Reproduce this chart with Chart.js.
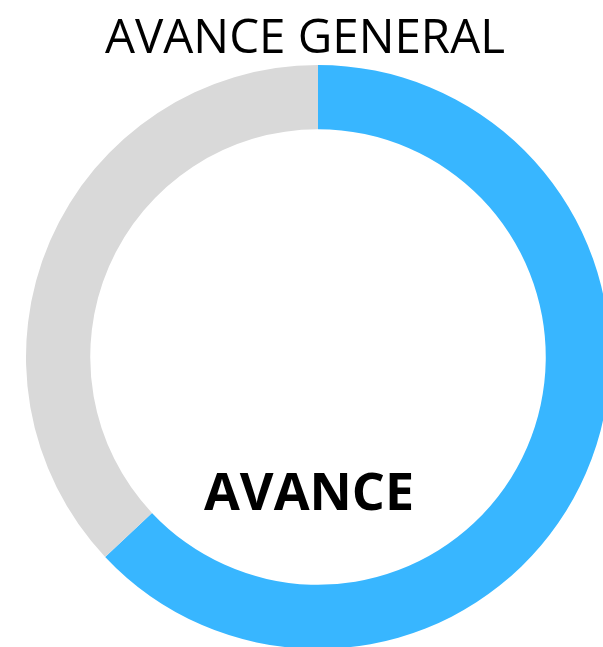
<!DOCTYPE html>
<html>
<head>
<meta charset="utf-8">
<script src="https://cdn.jsdelivr.net/npm/chart.js@4"></script>
<style>
  html, body { margin: 0; padding: 0; overflow: hidden; background: #fff; }
  canvas { display: block; }
</style>
</head>
<body>
<canvas id="grafico-avance" width="636" height="660"></canvas>
<script>
// Datos del gráfico
const etiquetas = ['Avance', 'Restante'];
const valores = [63, 37];
const colores = ['#38b6ff', '#d9d9d9'];
const titulo = 'AVANCE GENERAL';
const textoCentro = 'AVANCE';

// Plugin para escribir el título y el texto dentro del anillo
const textos = {
  id: 'textos',
  afterDraw(chart) {
    const ctx = chart.ctx;
    ctx.save();
    ctx.fillStyle = '#000';
    ctx.textAlign = 'center';
    ctx.textBaseline = 'alphabetic';
    ctx.font = '47.5px "Open Sans"';
    ctx.fillText(titulo, 305, 53);
    ctx.font = 'bold 52px "Open Sans"';
    ctx.fillText(textoCentro, 309, 510);
    ctx.restore();
  }
};

document.addEventListener('DOMContentLoaded', function () {
  const ctx = document.getElementById('grafico-avance').getContext('2d');

  new Chart(ctx, {
    type: 'doughnut',
    data: {
      labels: etiquetas,
      datasets: [{
        data: valores,
        backgroundColor: colores,
        borderWidth: 0
      }]
    },
    options: {
      responsive: false,
      animation: false,
      radius: 292,
      cutout: '78%',
      layout: { padding: { top: 54, bottom: 0, left: 0, right: 0 } },
      plugins: {
        legend: { display: false },
        tooltip: { enabled: false }
      }
    },
    plugins: [textos]
  });
});
</script>
</body>
</html>
